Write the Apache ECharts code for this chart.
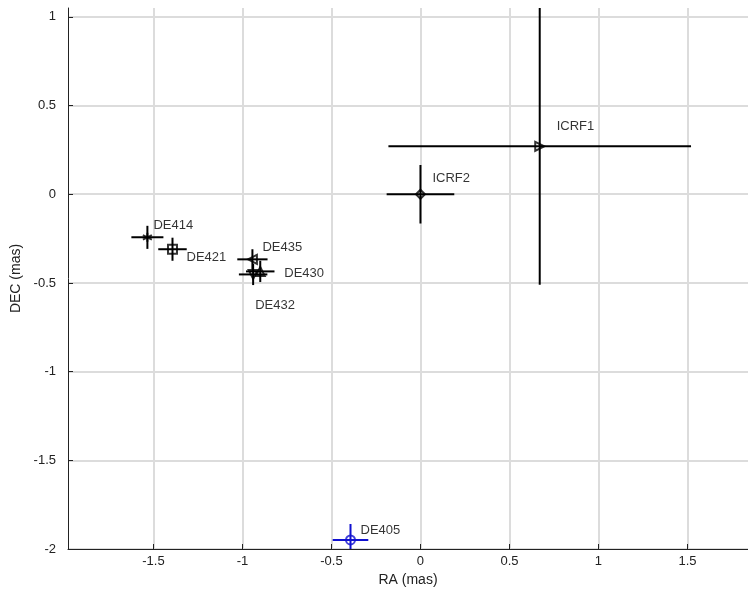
<!DOCTYPE html>
<html><head><meta charset="utf-8">
<script src="https://cdn.jsdelivr.net/npm/echarts@6/dist/echarts.min.js"></script>
<style>html,body{margin:0;padding:0;background:#fff}#c{width:748px;height:595px}</style>
</head><body><div id="c"></div>
<script>
// ephemeris / frame offsets
var names  = ['ICRF1','ICRF2','DE414','DE421','DE435','DE430','DE432','DE405'];
var raVals = [0.67, 0, -1.534, -1.393, -0.944, -0.90, -0.94, -0.393];
var decVals= [0.27, 0, -0.243, -0.31, -0.367, -0.435, -0.452, -1.949];
var raErr  = [0.85, 0.19, 0.09, 0.08, 0.085, 0.08, 0.08, 0.10];
var decErr = [0.78, 0.165, 0.065, 0.065, 0.057, 0.06, 0.06, 0.09];
var asterisk = 'path://M5,0L5,10M0.7,2.5L9.3,7.5M0.7,7.5L9.3,2.5';
var symbols= ['triangle','diamond',asterisk,'rect','triangle','triangle','triangle','circle'];
var rotates= [-90, 0, 0, 0, 90, 0, 180, 0];
var colors = ['#000','#000','#000','#000','#000','#000','#000','#1010d0'];
var labelPos = [[17,-20],[12,-16],[6,-12],[14,8],[10,-12],[24,2],[2,31],[10,-10]];
var xTicks = [-1.5,-1,-0.5,0,0.5,1,1.5];
var yTicks = [-2,-1.5,-1,-0.5,0,0.5,1];

var chart = echarts.init(document.getElementById('c'));
var errData = names.map(function(n,i){return [raVals[i],decVals[i],raErr[i],decErr[i],i];});
var series = [{
  type:'custom',
  clip:true,
  renderItem:function(params,api){
    var x=api.value(0), y=api.value(1), ex=api.value(2), ey=api.value(3), i=api.value(4);
    var l=api.coord([x-ex,y]), r=api.coord([x+ex,y]);
    var t=api.coord([x,y+ey]), b=api.coord([x,y-ey]);
    var st={stroke:colors[i],lineWidth:2};
    return {type:'group',children:[
      {type:'line',shape:{x1:l[0],y1:l[1],x2:r[0],y2:r[1]},style:st},
      {type:'line',shape:{x1:t[0],y1:t[1],x2:b[0],y2:b[1]},style:st}
    ]};
  },
  data:errData,
  z:2
}];
names.forEach(function(n,i){
  series.push({
    type:'scatter',
    data:[[raVals[i],decVals[i]]],
    symbol:symbols[i],
    symbolSize:9,
    symbolRotate:rotates[i],
    itemStyle:{color:'rgba(0,0,0,0)',borderColor:colors[i],borderWidth:2},
    label:{show:true,formatter:n,position:'inside',offset:labelPos[i],align:'left',
      color:'#000',fontSize:13,fontFamily:'Liberation Sans, Arial'},
    z:3
  });
});
var font = 'Liberation Sans, Arial';
chart.setOption({
  animation:false,
  grid:{left:68,right:0,top:8,bottom:46},
  xAxis:{type:'value',min:-1.98,max:1.84,name:'RA (mas)',nameLocation:'middle',nameGap:22,
    nameTextStyle:{color:'#222',fontSize:14,fontFamily:font},
    axisLine:{onZero:false,lineStyle:{color:'#222',width:1}},
    axisTick:{show:true,inside:true,length:5,customValues:xTicks,lineStyle:{color:'#222'}},
    axisLabel:{customValues:xTicks,color:'#222',fontSize:13,fontFamily:font,margin:6},
    splitLine:{show:true,lineStyle:{color:'#dcdcdc',width:2}}},
  yAxis:{type:'value',min:-2,max:1.05,name:'DEC (mas)',nameLocation:'middle',nameGap:44,
    nameTextStyle:{color:'#222',fontSize:14,fontFamily:font},
    axisLine:{show:true,onZero:false,lineStyle:{color:'#222',width:1}},
    axisTick:{show:true,inside:true,length:5,customValues:yTicks,lineStyle:{color:'#222'}},
    axisLabel:{customValues:yTicks,color:'#222',fontSize:13,fontFamily:font,margin:12},
    splitLine:{show:true,lineStyle:{color:'#dcdcdc',width:2}}},
  series:series
});
</script></body></html>
